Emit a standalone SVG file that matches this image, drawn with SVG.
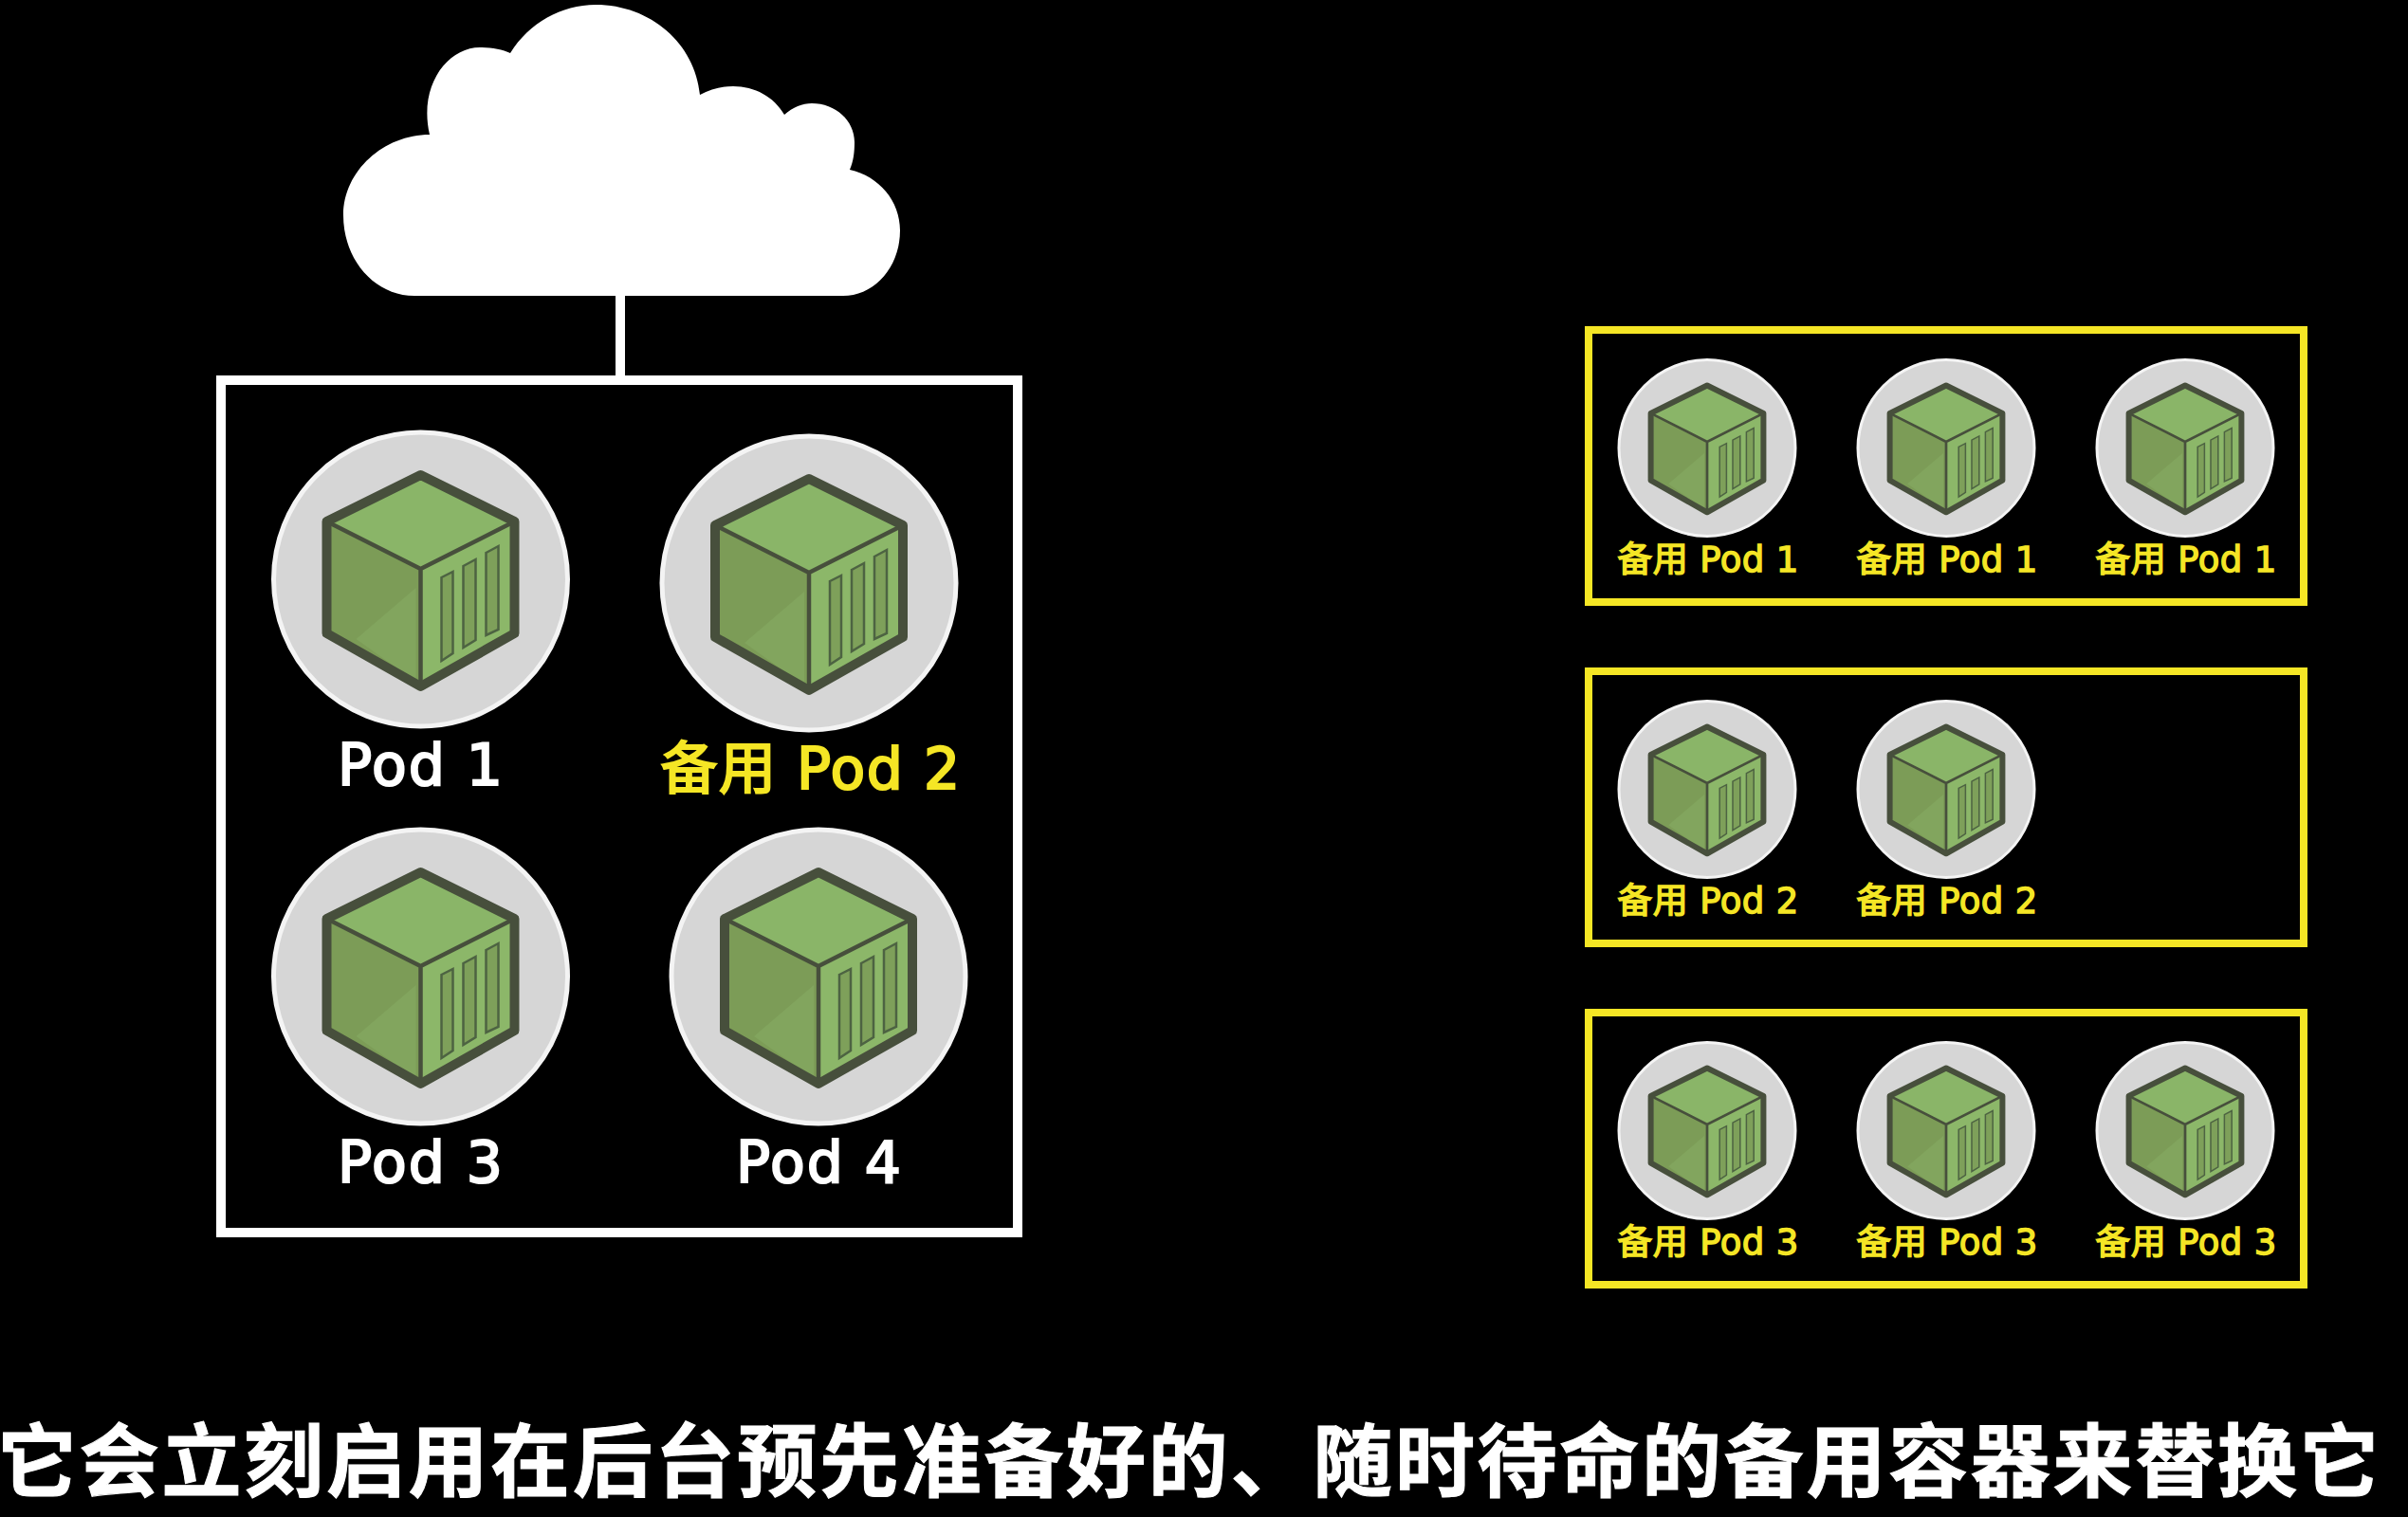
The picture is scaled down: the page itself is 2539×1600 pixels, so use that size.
<svg xmlns="http://www.w3.org/2000/svg" xmlns:xlink="http://www.w3.org/1999/xlink" width="2539" height="1600" viewBox="0 0 2539 1600">
<style>
.white-line{fill:none;stroke:#fff;stroke-width:10}
.yellow-box{fill:none;stroke:#f5e625;stroke-width:8}
.big{font-family:"DejaVu Sans","Noto Sans CJK SC",sans-serif;font-size:60px;letter-spacing:2px;text-anchor:middle;fill:#fff;stroke:#fff;stroke-width:2.2px}
.bigy{fill:#f5e625;stroke:#f5e625;letter-spacing:1.500px}
.small{font-family:"DejaVu Sans","Noto Sans CJK SC",sans-serif;font-size:37px;letter-spacing:.4px;text-anchor:middle;fill:#f5e625;stroke:#f5e625;stroke-width:1.4px}
.cap{font-family:"Noto Sans CJK SC",sans-serif;font-size:84px;font-weight:700;fill:#fff;letter-spacing:2.7px;stroke:#fff;stroke-width:1px}
</style>
<defs>
<g id="pod-icon">
<circle r="155" fill="#d6d6d6" stroke="#f4f4f4" stroke-width="5"/>
<path d="M0 -110L99 -61L0 -11L-99 -61Z" fill="#8ab568"/>
<path d="M-99 -61L0 -11V113L-99 57Z" fill="#7c9c57"/>
<path d="M-68 63L-5 9V108Z" fill="#82a55e"/>
<path d="M99 -61L0 -11V113L99 57Z" fill="#8cb769"/>
<g fill="#7ea05a" stroke="#4d6342" stroke-width="2.5">
<path d="M22 -2L34 -8V78L22 86Z"/>
<path d="M45 -14L58 -21V64L45 72Z"/>
<path d="M69 -28L82 -35V53L69 59Z"/>
</g>
<path d="M-99 -61L0 -11L99 -61M0 -11V113" fill="none" stroke="#474f3c" stroke-width="4.500"/>
<path d="M0 -110L99 -61V57L0 113L-99 57V-61Z" fill="none" stroke="#474f3c" stroke-width="10" stroke-linejoin="round"/>
</g>
</defs>
<rect width="2539" height="1600" fill="#000"/>
<g id="connectors">
<path class="white-line" d="M654 310V398"/>
</g>
<g id="cloud">
<path fill="#fff" d="M437 312C395 312 362 274 362 227C362 180 405 142 453 142C441 90 472 50 506 50C518 50 530 52 538 56C558 24 592 5 628 5C686 5 733 46 738 100C749 94 761 91 773 91C796 91 816 102 827 121C836 113 846 109 856 109C881 109 901 127 901 150C901 160 900 170 896 179C927 186 949 212 949 243C949 282 922 312 889 312Z"/>
</g>
<g id="cluster"><rect class="white-line" x="233" y="401" width="840" height="899"/></g>
<g id="pod-1"><use xlink:href="#pod-icon" href="#pod-icon" transform="translate(443.500 611)"/><text class="big" x="444" y="828">Pod 1</text></g>
<g id="pod-2"><use xlink:href="#pod-icon" href="#pod-icon" transform="translate(853 615)"/><text class="big bigy" x="855" y="832">备用 Pod 2</text></g>
<g id="pod-3"><use xlink:href="#pod-icon" href="#pod-icon" transform="translate(443.500 1030)"/><text class="big" x="444" y="1247">Pod 3</text></g>
<g id="pod-4"><use xlink:href="#pod-icon" href="#pod-icon" transform="translate(863 1030)"/><text class="big" x="864" y="1247">Pod 4</text></g>
<g id="standby-group-1"><rect class="yellow-box" x="1675" y="348" width="754" height="287"/></g>
<g id="standby-1a"><use xlink:href="#pod-icon" href="#pod-icon" transform="translate(1800 472.500) scale(.6)"/><text class="small" x="1801" y="603">备用 Pod 1</text></g>
<g id="standby-1b"><use xlink:href="#pod-icon" href="#pod-icon" transform="translate(2052 472.500) scale(.6)"/><text class="small" x="2053" y="603">备用 Pod 1</text></g>
<g id="standby-1c"><use xlink:href="#pod-icon" href="#pod-icon" transform="translate(2304 472.500) scale(.6)"/><text class="small" x="2305" y="603">备用 Pod 1</text></g>
<g id="standby-group-2"><rect class="yellow-box" x="1675" y="708" width="754" height="287"/></g>
<g id="standby-2a"><use xlink:href="#pod-icon" href="#pod-icon" transform="translate(1800 832.500) scale(.6)"/><text class="small" x="1801" y="963">备用 Pod 2</text></g>
<g id="standby-2b"><use xlink:href="#pod-icon" href="#pod-icon" transform="translate(2052 832.500) scale(.6)"/><text class="small" x="2053" y="963">备用 Pod 2</text></g>
<g id="standby-group-3"><rect class="yellow-box" x="1675" y="1068" width="754" height="287"/></g>
<g id="standby-3a"><use xlink:href="#pod-icon" href="#pod-icon" transform="translate(1800 1192.500) scale(.6)"/><text class="small" x="1801" y="1323">备用 Pod 3</text></g>
<g id="standby-3b"><use xlink:href="#pod-icon" href="#pod-icon" transform="translate(2052 1192.500) scale(.6)"/><text class="small" x="2053" y="1323">备用 Pod 3</text></g>
<g id="standby-3c"><use xlink:href="#pod-icon" href="#pod-icon" transform="translate(2304 1192.500) scale(.6)"/><text class="small" x="2305" y="1323">备用 Pod 3</text></g>
<text class="cap" x="-3" y="1572">它会立刻启用在后台预先准备好的、随时待命的备用容器来替换它</text>
</svg>
